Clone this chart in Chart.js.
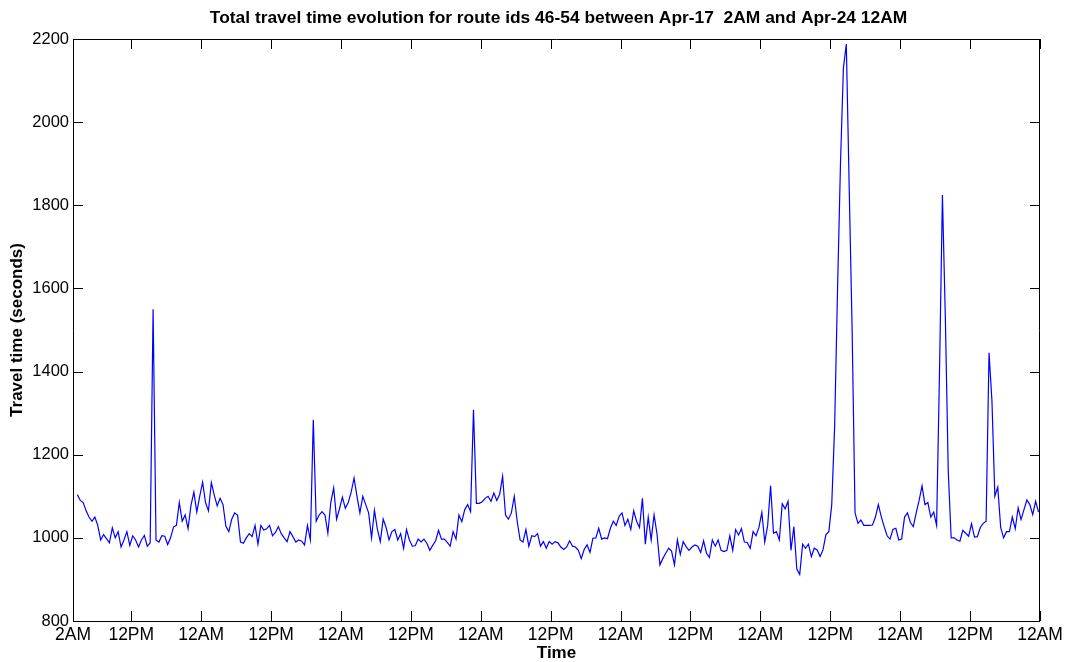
<!DOCTYPE html>
<html>
<head>
<meta charset="utf-8">
<script src="https://cdn.jsdelivr.net/npm/chart.js@4.4.1/dist/chart.umd.min.js"></script>
<style>
  body { margin: 0; background: #fff; }
  canvas { display: block; }
</style>
</head>
<body>
<canvas id="travelChart" width="1071" height="662"></canvas>
<script>
// half-hour samples, first one at 2:45AM Apr-17 (hours counted from 2AM)
const startHour = 0.75;
const stepHours = 0.5;

const apr17 = [1104, 1090, 1085, 1065, 1050, 1040, 1050, 1030, 995, 1008,
  998, 988, 1024, 1000, 1015, 978, 995, 1015, 982, 1005,
  995, 978, 995, 1006, 980, 988, 1550, 995, 990, 1005,
  1004, 984, 1000, 1026, 1030, 1085, 1040, 1055, 1022, 1078,
  1110, 1062, 1100];
const apr18 = [1134, 1085, 1065, 1133, 1103, 1077, 1095,
  1080, 1028, 1015, 1045, 1060, 1055, 990, 987, 1000, 1010,
  1003, 1030, 985, 1030, 1019, 1022, 1030, 1005, 1013, 1027,
  1010, 1000, 991, 1015, 1003, 990, 995, 992, 983, 1030,
  995, 1284, 1040, 1055, 1063, 1055, 1011, 1085, 1120, 1045,
  1070];
const apr19 = [1098, 1071, 1085, 1110, 1144, 1100, 1060, 1100, 1080,
  1060, 1000, 1066, 1021, 991, 1045, 1025, 995, 1015, 1020,
  995, 1010, 975, 1020, 995, 980, 981, 997, 990, 997,
  987, 970, 982, 993, 1018, 997, 997, 989, 980, 1015,
  997, 1055, 1039, 1068, 1080, 1063, 1308, 1083, 1083];
const apr20 = [1087,
  1095, 1100, 1088, 1108, 1090, 1105, 1148, 1055, 1045, 1060,
  1100, 1040, 995, 990, 1020, 980, 1005, 1003, 1010, 980,
  991, 975, 991, 985, 991, 988, 978, 972, 978, 993,
  980, 978, 970, 950, 972, 983, 965, 999, 1000, 1023,
  997, 1000, 998, 1023, 1040, 1030, 1052];
const apr21 = [1060, 1030, 1045,
  1020, 1065, 1040, 1025, 1095, 985, 1050, 995, 1055, 1010,
  935, 950, 963, 975, 968, 935, 995, 960, 991, 979,
  970, 978, 983, 980, 965, 993, 963, 953, 995, 980,
  995, 970, 967, 970, 1005, 970,
  1020, 1007, 1022, 990, 989, 975, 1015, 1005, 1025];
const apr22 = [1061, 990, 1030, 1125, 1011,
  1015, 995, 1082, 1070, 1088, 970, 1027, 925, 912, 985,
  975, 985, 955, 975, 971, 955, 971, 1008, 1015, 1080,
  1270, 1600, 1900, 2130, 2188, 1840, 1500, 1060, 1035, 1043,
  1030, 1030, 1030, 1031, 1050, 1080, 1051, 1027, 1005, 997,
  1020, 1023, 995];
const apr23 = [997, 1050, 1060, 1037, 1027, 1060, 1090,
  1125, 1080, 1085, 1050, 1062, 1030, 1400, 1825, 1530, 1160,
  1000, 1000, 995, 992, 1018, 1011, 1004, 1034, 1002, 1003,
  1025, 1035, 1040, 1445, 1330, 1100, 1122, 1025, 1000, 1015,
  1015, 1050, 1022, 1072, 1044, 1068, 1091, 1080, 1056, 1088, 1062];

const tickHours = [0, 10, 22, 34, 46, 58, 70, 82, 94, 106, 118, 130, 142, 154, 166];
const tickLabels = ['2AM', '12PM', '12AM', '12PM', '12AM', '12PM', '12AM', '12PM',
  '12AM', '12PM', '12AM', '12PM', '12AM', '12PM', '12AM'];

const chartTitle = 'Total travel time evolution for route ids 46-54 between Apr-17  2AM and Apr-24 12AM';

document.addEventListener('DOMContentLoaded', function() {
    const travelTime = [].concat(apr17, apr18, apr19, apr20, apr21, apr22, apr23);
    const points = travelTime.map((v, i) => ({ x: startHour + i * stepHours, y: v }));

    const fontFamily = '"Liberation Sans", Arial, Helvetica, sans-serif';

    // matlab-like box with inward ticks on all four sides, plus the title
    const boxPlugin = {
        id: 'boxPlugin',
        afterDraw(chart) {
            const c = chart.ctx;
            const { left, right, top, bottom } = chart.chartArea;
            const xs = chart.scales.x;
            const ys = chart.scales.y;
            const tl = 10;
            c.save();
            c.strokeStyle = '#000';
            c.lineWidth = 1;
            c.beginPath();
            c.rect(Math.round(left) + 0.5, Math.round(top) + 0.5,
                Math.round(right - left) - 1, Math.round(bottom - top));
            tickHours.forEach(h => {
                const px = Math.round(xs.getPixelForValue(h)) + 0.5;
                c.moveTo(px, bottom);
                c.lineTo(px, bottom - tl);
                c.moveTo(px, top);
                c.lineTo(px, top + tl);
            });
            ys.ticks.forEach(t => {
                const py = Math.round(ys.getPixelForValue(t.value)) + 0.5;
                c.moveTo(left, py);
                c.lineTo(left + tl, py);
                c.moveTo(right, py);
                c.lineTo(right - tl, py);
            });
            c.stroke();

            c.fillStyle = '#000';
            c.font = 'bold 17.4px ' + fontFamily;
            c.textAlign = 'center';
            c.textBaseline = 'middle';
            c.fillText(chartTitle, (left + right) / 2 + 2, 18);
            c.restore();
        }
    };

    const ctx = document.getElementById('travelChart').getContext('2d');
    new Chart(ctx, {
        type: 'line',
        data: {
            datasets: [{
                data: points,
                borderColor: '#0000ff',
                borderWidth: 1.2,
                pointRadius: 0,
                tension: 0,
                fill: false
            }]
        },
        options: {
            responsive: false,
            animation: false,
            layout: {
                padding: { left: 0, right: 31, top: 39, bottom: 0 }
            },
            plugins: {
                legend: { display: false },
                tooltip: { enabled: false }
            },
            scales: {
                x: {
                    type: 'linear',
                    min: 0,
                    max: 166,
                    afterBuildTicks: function(scale) {
                        scale.ticks = tickHours.map(h => ({ value: h }));
                    },
                    afterFit: function(scale) {
                        scale.height = 41;
                        scale.paddingLeft = 0;
                        scale.paddingRight = 0;
                    },
                    grid: { display: false, drawTicks: false },
                    border: { display: false },
                    ticks: {
                        autoSkip: false,
                        maxRotation: 0,
                        padding: 4,
                        color: '#000',
                        font: { family: fontFamily, size: 17.5 },
                        callback: function(value) {
                            const i = tickHours.indexOf(value);
                            return i >= 0 ? tickLabels[i] : '';
                        }
                    },
                    title: {
                        display: true,
                        text: 'Time',
                        color: '#000',
                        padding: { top: 0, bottom: 0 },
                        font: { family: fontFamily, size: 17, weight: 'bold', lineHeight: 1 }
                    }
                },
                y: {
                    min: 800,
                    max: 2200,
                    afterFit: function(scale) {
                        scale.width = 73;
                        scale.paddingTop = 0;
                        scale.paddingBottom = 0;
                    },
                    grid: { display: false, drawTicks: false },
                    border: { display: false },
                    ticks: {
                        stepSize: 200,
                        padding: 4,
                        color: '#000',
                        font: { family: fontFamily, size: 16.5 },
                        callback: function(value) {
                            return String(value);
                        }
                    },
                    title: {
                        display: true,
                        text: 'Travel time (seconds)',
                        color: '#000',
                        padding: { top: 7, bottom: 0 },
                        font: { family: fontFamily, size: 17, weight: 'bold' }
                    }
                }
            }
        },
        plugins: [boxPlugin]
    });
});
</script>
</body>
</html>
